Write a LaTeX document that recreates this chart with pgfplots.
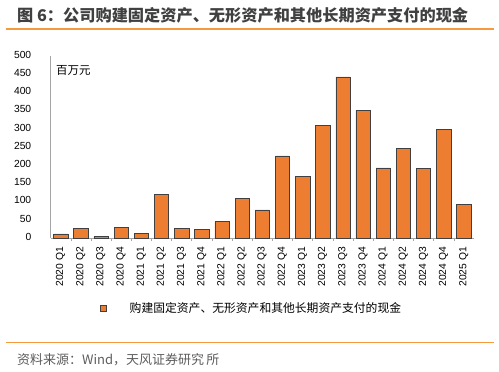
\documentclass[border=0pt]{standalone}
\usepackage{pgfplots}
\pgfplotsset{compat=1.18}
\usepackage{fontspec}
\setmainfont{Liberation Sans}
\newfontfamily\cjk{Noto Sans CJK SC}
\definecolor{barorange}{HTML}{ED7D31}
\definecolor{lineorange}{HTML}{F79A3E}
\definecolor{axgray}{HTML}{A6A6A6}
\definecolor{txtgray}{HTML}{404040}
\begin{document}
\begin{tikzpicture}
\path[use as bounding box] (0pt,0pt) rectangle (499pt,372pt);
\node[anchor=west,inner sep=0pt,text=txtgray,font=\cjk\bfseries\fontsize{16.2}{19}\selectfont] at (17pt,357pt) {图 6：公司购建固定资产、无形资产和其他长期资产支付的现金};
\draw[lineorange,line width=1.6pt] (6pt,343pt) -- (494pt,343pt);
\draw[lineorange,line width=1.6pt] (6pt,29.5pt) -- (494pt,29.5pt);
\node[anchor=west,inner sep=0pt,text=txtgray!85,font=\cjk\fontsize{13}{15}\selectfont] at (17pt,12pt) {资料来源：Wind，天风证券研究\,所};
\begin{axis}[
  at={(50.7pt,134pt)}, anchor=south west,
  width=423.3pt, height=182.3pt, scale only axis,
  xmin=-0.5, xmax=20.5, ymin=0, ymax=500,
  ytick={0,50,...,500},
  xtick={0,...,20},
  xticklabels={2020 Q1,2020 Q2,2020 Q3,2020 Q4,2021 Q1,2021 Q2,2021 Q3,2021 Q4,2022 Q1,2022 Q2,2022 Q3,2022 Q4,2023 Q1,2023 Q2,2023 Q3,2023 Q4,2024 Q1,2024 Q2,2024 Q3,2024 Q4,2025 Q1},
  minor x tick num=1,
  axis x line*=bottom, axis y line*=left,
  axis line style={axgray, line width=0.7pt, -},
  x axis line style={-}, y axis line style={-},
  major x tick style={draw=none},
  minor x tick style={axgray, line width=0.6pt},
  minor tick length=3pt,
  xtick pos=bottom,
  tick align=outside,
  ytick style={draw=none},
  /pgf/number format/assume math mode=true,
  tick label style={font=\fontsize{10.3}{12}\selectfont, text=black},
  xticklabel style={rotate=90, anchor=east, inner sep=0pt},
  yticklabel style={anchor=east, inner sep=0pt, xshift=-15pt},
  typeset ticklabels with strut=false,
  xticklabel shift=4.5pt,
  legend style={at={(0.1165,-0.385)}, anchor=west, draw=none, fill=none, inner sep=0pt, font=\cjk\fontsize{11.8}{14}\selectfont, text=black},
  legend image code/.code={\draw[draw=black!75, fill=barorange, line width=0.5pt] (0pt,-3pt) rectangle (6pt,3pt);},
  clip=false,
]
\node[anchor=north west,inner sep=0pt,font=\cjk\fontsize{11.5}{13}\selectfont] at (rel axis cs:0.0125,0.95) {百万元};
\addplot[ybar, bar width=14.3pt, fill=barorange, draw=black!75, line width=0.6pt] coordinates {
(0,11) (1,27) (2,4) (3,29) (4,13) (5,120) (6,26) (7,23) (8,45) (9,109)
(10,77) (11,225) (12,170) (13,309) (14,442) (15,351) (16,192) (17,246) (18,191) (19,298) (20,93)
};
\addlegendentry{\hspace*{21pt}购建固定资产、无形资产和其他长期资产支付的现金}
\end{axis}
\end{tikzpicture}
\end{document}
